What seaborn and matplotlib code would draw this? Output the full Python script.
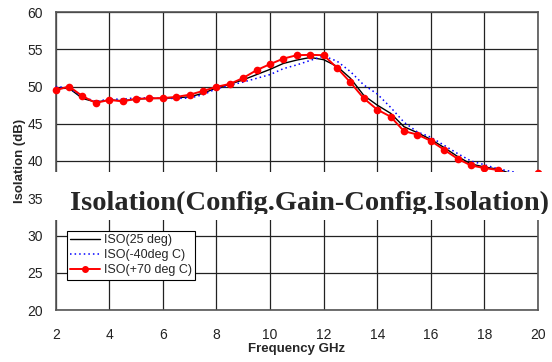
import numpy as np
import pandas as pd
import matplotlib
matplotlib.use("Agg")
import matplotlib.pyplot as plt
from matplotlib.patches import Rectangle
from matplotlib.transforms import Bbox
from matplotlib.lines import Line2D
import seaborn as sns

freq = [2.0, 2.5, 3.0, 3.5, 4.0, 4.5, 5.0, 5.5, 6.0, 6.5, 7.0, 7.5, 8.0, 8.5,
        9.0, 9.5, 10.0, 10.5, 11.0, 11.5, 12.0, 12.5, 13.0, 13.5, 14.0, 14.5,
        15.0, 15.5, 16.0, 16.5, 17.0, 17.5, 18.0, 18.5, 19.0, 19.5, 20.0]

iso_25 = [49.75, 49.75, 48.4, 47.9, 48.2, 48.1, 48.3, 48.4, 48.4, 48.5, 48.6,
          49.1, 49.8, 50.3, 50.9, 51.6, 52.3, 53.1, 53.55, 53.9, 53.6, 52.7,
          51.1, 48.8, 47.5, 46.4, 44.6, 43.8, 42.9, 41.8, 40.6, 39.6, 39.2,
          38.9, 38.3, 38.0, 38.0]

iso_m40 = [50.0, 49.8, 48.6, 48.0, 48.3, 48.3, 48.5, 48.45, 48.4, 48.4, 48.45,
           48.9, 49.7, 50.15, 50.6, 51.1, 51.6, 52.4, 52.9, 53.5, 54.1, 53.4,
           52.0, 50.2, 49.0, 47.2, 45.2, 43.9, 43.2, 42.1, 41.0, 40.0, 39.5,
           38.95, 38.6, 38.2, 38.0]

iso_p70 = [49.5, 50.0, 48.7, 47.8, 48.2, 48.0, 48.35, 48.4, 48.45, 48.6, 48.9,
           49.4, 49.95, 50.35, 51.15, 52.2, 53.0, 53.75, 54.2, 54.25, 54.2,
           52.5, 50.55, 48.4, 46.9, 45.95, 44.0, 43.55, 42.7, 41.5, 40.3, 39.4,
           39.05, 38.8, 38.0, 37.8, 38.4]

labels = ["ISO(25 deg)", "ISO(-40deg C)", "ISO(+70 deg C)"]
title = "Isolation(Config.Gain-Config.Isolation)"
x_ticks = [2, 4, 6, 8, 10, 12, 14, 16, 18, 20]
y_ticks = [20, 25, 30, 35, 40, 45, 50, 55, 60]

sns.set_theme(style="white")
plt.rcParams['font.family'] = ['Liberation Sans', 'DejaVu Sans']

W, H = 552, 362
fig = plt.figure(figsize=(W / 100, H / 100), dpi=100)
ax = fig.add_axes([55.7 / W, 1 - 310 / H, (538 - 55.7) / W, (310 - 12) / H])

df = pd.DataFrame({"freq": freq, "a": iso_25, "b": iso_m40, "c": iso_p70})

blue_dash = (0, (1.0, 2.0))
sns.lineplot(data=df, x="freq", y="a", ax=ax, color="black", lw=1.0,
             clip_on=False, zorder=3)
sns.lineplot(data=df, x="freq", y="b", ax=ax, color="blue", lw=1.1,
             linestyle=blue_dash, clip_on=False, zorder=4)
sns.lineplot(data=df, x="freq", y="c", ax=ax, color="red", lw=1.4,
             marker="o", markersize=5.5, markeredgewidth=0, clip_on=False,
             zorder=5)

ax.set_xlim(2, 20)
ax.set_ylim(20, 60)
ax.set_xticks(x_ticks)
ax.set_yticks(y_ticks)
ax.grid(True, color="#222222", lw=0.9)
ax.set_axisbelow(True)
for s in ax.spines.values():
    s.set_color("#555555")
    s.set_linewidth(1.2)
ax.tick_params(axis="both", length=0, labelsize=10, labelcolor="#222222")
ax.tick_params(axis="y", pad=9)
ax.tick_params(axis="x", pad=13)
ax.set_xlabel("Frequency GHz", fontsize=9.5, fontweight="bold", labelpad=1)
ax.set_ylabel("Isolation (dB)", fontsize=9.5, fontweight="bold", labelpad=1)

handles = [
    Line2D([], [], color="black", lw=1.0),
    Line2D([], [], color="blue", lw=1.1, linestyle=blue_dash),
    Line2D([], [], color="red", lw=1.4, marker="o", markersize=4),
]
leg = ax.legend(handles, labels, loc="upper left",
                bbox_to_anchor=((67 - 55.7) / 482.3, (310 - 231) / 298),
                borderaxespad=0, fontsize=9, frameon=True, fancybox=False,
                edgecolor="black", framealpha=1, handlelength=2.4,
                handletextpad=0.3, borderpad=0.25, labelspacing=0.25)
leg.get_frame().set_linewidth(0.8)

# white band with overlaid title
band = Rectangle((53 / W, 1 - 220 / H), (W - 53) / W, (220 - 172) / H,
                 transform=fig.transFigure, facecolor="white",
                 edgecolor="none", zorder=10)
fig.add_artist(band)
t = fig.text(309.5 / W, 1 - 210 / H, title, ha="center", va="baseline",
             fontsize=20.5, fontweight="bold",
             family=["Liberation Serif", "DejaVu Serif"], zorder=11)
t.set_clip_box(Bbox.from_extents(0, H - 214, W, H - 172))
t.set_clip_on(True)

fig.savefig("out.png", dpi=100)
